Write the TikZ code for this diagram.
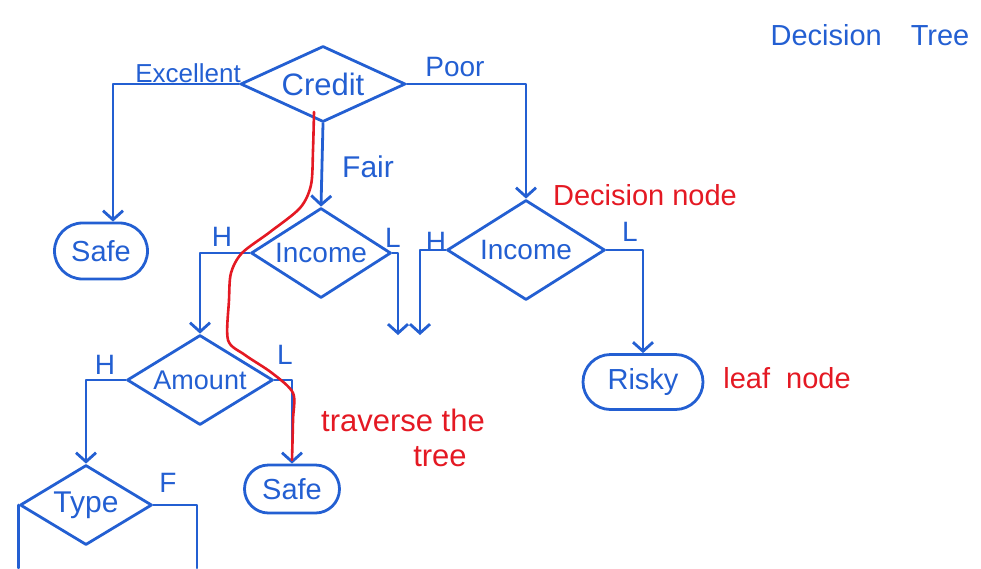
\documentclass[tikz,border=0pt]{standalone}
\usepackage{fontspec}
\setmainfont{Liberation Sans}
\usetikzlibrary{shapes.geometric,shapes.misc,arrows.meta}
\definecolor{pen}{RGB}{35,95,210}
\definecolor{redpen}{RGB}{228,25,35}
\tikzset{
  ink/.style={draw=pen,line width=2.8pt,line join=round,line cap=round},
  arr/.style={ink,-{Straight Barb[length=9pt,width=20pt,line width=2.8pt]}},
  dec/.style={diamond,ink,inner sep=0pt,text=pen,font=\fontsize{28}{30}\selectfont},
  leaf/.style={rounded rectangle,ink,inner sep=0pt,text=pen,font=\fontsize{29}{31}\selectfont},
  lab/.style={text=pen,inner sep=0pt,font=\fontsize{28}{30}\selectfont},
  rlab/.style={text=redpen,inner sep=0pt,font=\fontsize{29}{31}\selectfont}
}
\begin{document}
\begin{tikzpicture}[x=1pt,y=-1pt]
\useasboundingbox (0,0) rectangle (981,568);
% title
\node[lab,font=\fontsize{29}{31}\selectfont] (title) at (870,35) {Decision\quad Tree};
% decision nodes
\node[dec,aspect=2.2,minimum width=165pt,minimum height=76pt,font=\fontsize{31}{33}\selectfont] (credit) at (323,84) {Credit};
\node[dec,aspect=1.55,minimum width=140pt,minimum height=90pt] (inc1) at (321,253) {Income};
\node[dec,aspect=1.58,minimum width=158pt,minimum height=100pt] (inc2) at (526,250) {Income};
\node[dec,aspect=1.65,minimum width=146pt,minimum height=90pt,font=\fontsize{27}{29}\selectfont] (amount) at (200,380) {Amount};
\node[dec,aspect=1.65,minimum width=132pt,minimum height=80pt,font=\fontsize{30}{32}\selectfont] (type) at (86,505) {Type};
% leaves
\node[leaf,minimum width=93pt,minimum height=56pt] (safe1) at (101,251) {Safe};
\node[leaf,minimum width=120pt,minimum height=55pt] (risky) at (643,382) {Risky};
\node[leaf,minimum width=95pt,minimum height=48pt] (safe2) at (292,489) {Safe};
% free ends
\coordinate (d1) at (398,335);
\coordinate (d2) at (420,335);
\coordinate (tb1) at (type.west |- 0,568);
\coordinate (tb2) at (197,568);
% connectors
\draw[arr] (credit.west) -| ([xshift=12pt]safe1.north);
\draw[arr] (credit.east) -| (inc2.north);
\draw[arr] (credit.south) -- (inc1.north);
\draw[arr] (inc1.west) -| (amount.north);
\draw[arr] (inc1.east) -| (d1);
\draw[arr] (inc2.west) -| (d2);
\draw[arr] (inc2.east) -| (risky.north);
\draw[arr] (amount.west) -| (type.north);
\draw[arr] (amount.east) -| (safe2.north);
\draw[ink] (type.west) -- (tb1);
\draw[ink] (type.east) -| (tb2);
% branch labels
\node[lab,font=\fontsize{26}{28}\selectfont] (lexc) at (188,73) {Excellent};
\node[lab] (lpoor) at (455,67) {Poor};
\node[lab,font=\fontsize{30}{32}\selectfont] (lfair) at (368,167) {Fair};
\node[lab] (h1) at (222,237) {H};
\node[lab] (l1) at (393,238) {L};
\node[lab] (h2) at (436,242) {H};
\node[lab] (l2) at (630,232) {L};
\node[lab] (h3) at (105,365) {H};
\node[lab] (l3) at (285,355) {L};
\node[lab] (f1) at (168,483) {F};
% red annotations
\node[rlab] (dnode) at (645,195) {Decision node};
\node[rlab] (lnode) at (787,378) {leaf\ \ node};
\node[rlab,font=\fontsize{31}{33}\selectfont] (trav) at (403,420) {traverse the};
\node[rlab,font=\fontsize{31}{33}\selectfont] (tree) at (440,457) {tree};
\draw[redpen,line width=2.6pt,line cap=round] plot[smooth,tension=0.5] coordinates {
  (314,112) (313,150) (311,185) (300,208) (270,232) (242,253) (231,273)
  (229,300) (228,340) (245,355) (272,373) (293,393) (293,420) (292,460)};
\end{tikzpicture}
\end{document}
